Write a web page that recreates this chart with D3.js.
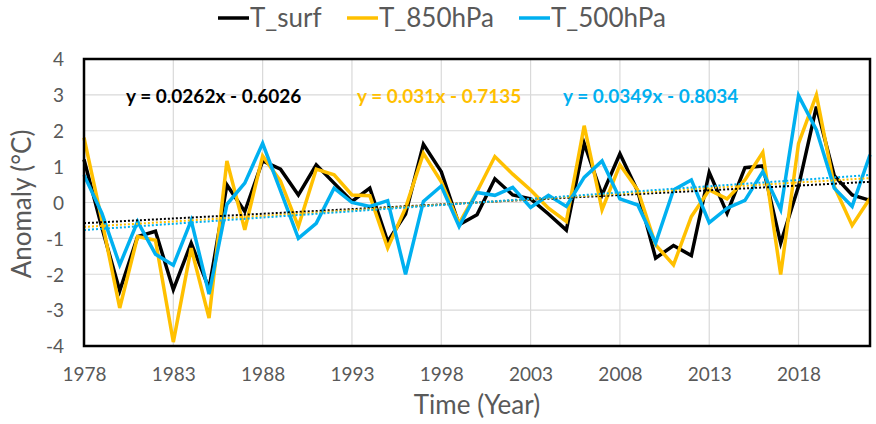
<!DOCTYPE html>
<html>
<head>
<meta charset="utf-8">
<script src="https://cdn.jsdelivr.net/npm/d3@7"></script>
<style>
  html, body { margin: 0; padding: 0; background: #fff; }
  svg { display: block; font-family: Lato, "Open Sans", sans-serif; }
</style>
</head>
<body>
<svg id="chart" width="876" height="424"></svg>
<script>
// ---- data ----
const years = d3.range(1978, 2023);
const seriesNames = ["T_surf", "T_850hPa", "T_500hPa"];
const tSurf = [1.2, -0.7, -2.46, -0.95, -0.8, -2.43, -1.13, -2.4, 0.49, -0.25,
  1.16, 0.93, 0.21, 1.05, 0.54, 0.03, 0.4, -1.09, -0.32, 1.62,
  0.86, -0.62, -0.34, 0.66, 0.21, 0.1, -0.32, -0.77, 1.65, 0.21,
  1.36, 0.31, -1.55, -1.2, -1.48, 0.84, -0.3, 0.97, 1.02, -1.13,
  0.45, 2.67, 0.75, 0.21, 0.06];
const t850 = [1.81, -0.5, -2.94, -0.95, -1.05, -3.89, -1.27, -3.22, 1.16, -0.76,
  1.3, 0.6, -0.67, 0.93, 0.77, 0.21, 0.19, -1.27, -0.15, 1.37,
  0.58, -0.58, 0.3, 1.28, 0.79, 0.35, -0.16, -0.53, 2.14, -0.2,
  1.05, 0.35, -1.18, -1.74, -0.39, 0.35, 0.1, 0.63, 1.4, -2.01,
  1.65, 3.0, 0.45, -0.64, 0.12];
const t500 = [0.77, -0.3, -1.74, -0.53, -1.44, -1.75, -0.5, -2.55, -0.05, 0.54,
  1.65, 0.33, -1.0, -0.58, 0.4, 0.0, -0.11, 0.05, -2.0, 0.03,
  0.46, -0.67, 0.28, 0.2, 0.42, -0.14, 0.2, -0.11, 0.7, 1.16,
  0.1, -0.07, -1.13, 0.35, 0.63, -0.56, -0.16, 0.06, 0.86, -0.2,
  2.98, 2.02, 0.4, -0.11, 1.33];
const trendSlopes = [0.0262, 0.031, 0.0349];
const trendIntercepts = [-0.6026, -0.7135, -0.8034];
const trendLabels = ["y = 0.0262x - 0.6026", "y = 0.031x - 0.7135", "y = 0.0349x - 0.8034"];
const xTickYears = [1978, 1983, 1988, 1993, 1998, 2003, 2008, 2013, 2018];
const yTicks = [-4, -3, -2, -1, 0, 1, 2, 3, 4];
const colors = ["#000000", "#FFC000", "#00B0F0"];

// ---- layout ----
const svg = d3.select("#chart");
const plot = { left: 84, right: 870, top: 59, bottom: 346 };
const x = d3.scaleLinear().domain([1978, 2022]).range([plot.left, plot.right]);
const y = d3.scaleLinear().domain([-4, 4]).range([plot.bottom, plot.top]);

// gridlines
const grid = svg.append("g");
grid.selectAll("line.h").data(yTicks.filter(v => v > -4 && v < 4)).join("line")
  .attr("x1", plot.left).attr("x2", plot.right)
  .attr("y1", d => y(d)).attr("y2", d => y(d))
  .attr("stroke", "#d9d9d9").attr("stroke-width", 1.2);
grid.selectAll("line.v").data(xTickYears.filter(v => v > 1978)).join("line")
  .attr("x1", d => x(d)).attr("x2", d => x(d))
  .attr("y1", plot.top).attr("y2", plot.bottom)
  .attr("stroke", "#d9d9d9").attr("stroke-width", 1.2);

// axes (labels only)
const xAxis = d3.axisBottom(x).tickValues(xTickYears).tickFormat(d3.format("d")).tickSize(0).tickPadding(0);
const gx = svg.append("g").attr("transform", `translate(0, ${plot.bottom + 21})`).call(xAxis);
gx.select(".domain").remove();
gx.selectAll("text").attr("font-family", "Lato, sans-serif").attr("font-size", 19)
  .attr("fill", "#595959").attr("dy", "0.71em");

const yAxis = d3.axisLeft(y).tickValues(yTicks).tickFormat(d3.format("d")).tickSize(0).tickPadding(0);
const gy = svg.append("g").attr("transform", `translate(${plot.left - 20}, 0)`).call(yAxis);
gy.select(".domain").remove();
gy.selectAll("text").attr("font-family", "Lato, sans-serif").attr("font-size", 19)
  .attr("fill", "#595959").attr("dy", "0.36em")
  .text(d => d < 0 ? "-" + Math.abs(d) : d);

// series
const allSeries = [tSurf, t850, t500];
const line = d3.line().x((d, i) => x(years[i])).y(d => y(d));
allSeries.forEach((s, k) => {
  svg.append("path").datum(s).attr("d", line)
    .attr("fill", "none").attr("stroke", colors[k]).attr("stroke-width", 3.5)
    .attr("stroke-linejoin", "miter").attr("stroke-linecap", "butt");
});

// trendlines (Excel index x = 1..n)
const n = years.length;
trendSlopes.forEach((m, k) => {
  const pts = [1, n].map(i => [years[i - 1], m * i + trendIntercepts[k]]);
  svg.append("line")
    .attr("x1", x(pts[0][0])).attr("y1", y(pts[0][1]))
    .attr("x2", x(pts[1][0])).attr("y2", y(pts[1][1]))
    .attr("stroke", colors[k]).attr("stroke-width", 2)
    .attr("stroke-dasharray", "2,2");
});

// equation labels
const eqX = [126, 357, 563];
trendLabels.forEach((t, k) => {
  svg.append("text").attr("x", eqX[k]).attr("y", 103)
    .attr("font-family", "Lato, sans-serif").attr("font-weight", "bold")
    .attr("font-size", 19).attr("fill", colors[k]).text(t);
});

// plot border
svg.append("rect").attr("x", plot.left).attr("y", plot.top)
  .attr("width", plot.right - plot.left).attr("height", plot.bottom - plot.top)
  .attr("fill", "none").attr("stroke", "#000").attr("stroke-width", 2.5);

// axis titles
svg.append("text").attr("x", 477).attr("y", 414).attr("text-anchor", "middle")
  .attr("font-size", 26).attr("fill", "#595959").text("Time (Year)");
svg.append("text").attr("transform", "translate(31, 204) rotate(-90)")
  .attr("text-anchor", "middle").attr("font-size", 26).attr("fill", "#595959")
  .text("Anomaly (°C)");

// legend
const legX = [218, 347, 519];
seriesNames.forEach((name, k) => {
  const g = svg.append("g").attr("transform", `translate(${legX[k]}, 0)`);
  g.append("line").attr("x1", 0).attr("x2", 31).attr("y1", 18).attr("y2", 18)
    .attr("stroke", colors[k]).attr("stroke-width", 3.5);
  g.append("text").attr("x", 32).attr("y", 27).attr("font-size", 26)
    .attr("fill", "#595959").text(name);
});
</script>
</body>
</html>
